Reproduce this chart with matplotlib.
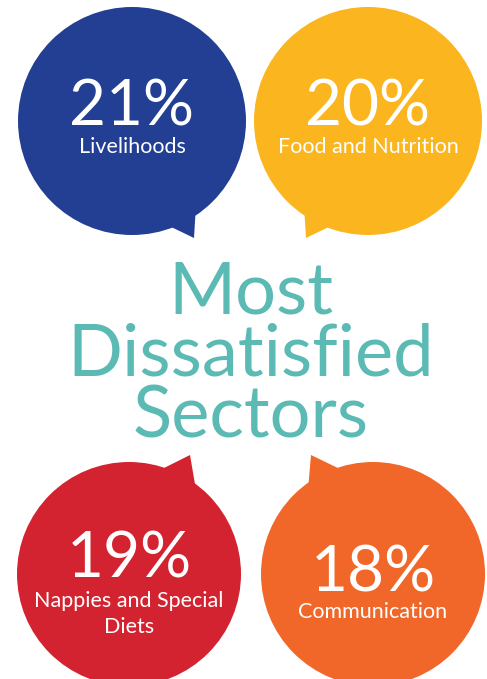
import matplotlib.pyplot as plt
from matplotlib.patches import Circle, Polygon

plt.rcParams['font.family'] = ['Lato', 'DejaVu Sans']

values = [21, 20, 19, 18]
sectors = ['Livelihoods', 'Food and Nutrition', 'Nappies and Special\nDiets', 'Communication']
colors = ['#233f94', '#fbb51f', '#d42330', '#f1672a']
title_lines = ['Most', 'Dissatisfied', 'Sectors']
title_color = '#5bbab4'

# bubble layout in pixel space: centre, radius, tail triangle, text baselines
centres = [(132, 121), (368, 121), (129, 574), (373, 574)]
radius = [114, 114, 112, 112]
tails = [
    [(196, 205), (194, 238), (165, 224)],
    [(304, 205), (306, 238), (335, 224)],
    [(160, 470), (190, 455), (196, 490)],
    [(308, 490), (311, 455), (342, 470)],
]
pct_base = [125, 125, 578, 592]
lab_base = [153, 153, 607, 618]

W, H = 487, 679
fig = plt.figure(figsize=(W / 100, H / 100), dpi=100)
ax = fig.add_axes([0, 0, 1, 1])
ax.set_xlim(0, W)
ax.set_ylim(H, 0)
ax.axis('off')

for i, v in enumerate(values):
    cx, cy = centres[i]
    ax.add_patch(Circle((cx, cy), radius[i], color=colors[i], lw=0))
    ax.add_patch(Polygon(tails[i], closed=True, color=colors[i], lw=0))
    ax.text(cx, pct_base[i], f'{v}%', color='white', fontsize=46,
            ha='center', va='baseline')
    lines = sectors[i].split('\n')
    for j, line in enumerate(lines):
        ax.text(cx, lab_base[i] + j * 26, line, color='white', fontsize=15.5,
                ha='center', va='baseline')

for j, line in enumerate(title_lines):
    ax.text(251, 314 + j * 62, line, color=title_color, fontsize=52,
            ha='center', va='baseline')

fig.savefig('out.png', dpi=100)
